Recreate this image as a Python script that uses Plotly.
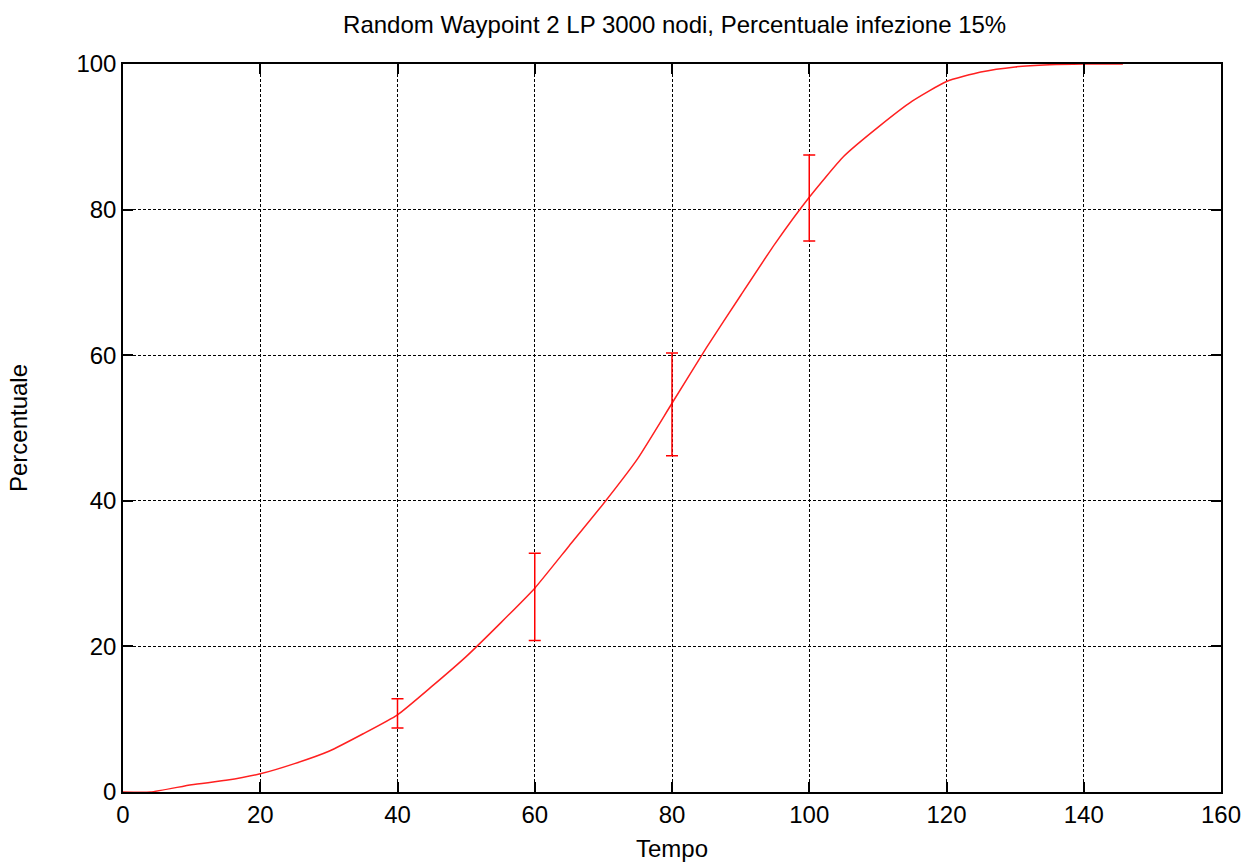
import plotly.graph_objects as go

# Mean infected percentage over time
tempo = [0, 4, 10, 15, 20, 25, 30, 35, 40, 45, 50, 55, 60, 65, 70, 75, 80,
         85, 90, 95, 100, 105, 110, 115, 120, 125, 130, 135, 140, 145.7]
percentuale = [0, 0, 1.0, 1.6, 2.5, 3.9, 5.6, 8.0, 10.6, 14.5, 18.6, 23.2, 28.0,
               33.8, 39.6, 45.8, 53.4, 61.0, 68.2, 75.3, 81.7, 87.3, 91.3, 94.9,
               97.6, 98.9, 99.6, 99.9, 100, 100]

# Confidence intervals at sampled instants
err_tempo = [40, 60, 80, 100]
err_centro = [10.6, 28.0, 53.4, 81.7]
err_sup = [12.8, 32.8, 60.3, 87.5]
err_inf = [8.8, 20.8, 46.2, 75.7]

x_ticks = [0, 20, 40, 60, 80, 100, 120, 140, 160]
y_ticks = [0, 20, 40, 60, 80, 100]

font_family = "Liberation Sans, Arial, sans-serif"

fig = go.Figure()
fig.add_trace(go.Scatter(
    x=tempo, y=percentuale, mode="lines", line_shape="spline",
    line=dict(color="#ff2020", width=1.5, smoothing=0.5),
    showlegend=False, hoverinfo="skip",
))
fig.add_trace(go.Scatter(
    x=err_tempo, y=err_centro, mode="markers",
    marker=dict(size=1, color="red"),
    error_y=dict(
        type="data", symmetric=False,
        array=[s - c for s, c in zip(err_sup, err_centro)],
        arrayminus=[c - i for c, i in zip(err_centro, err_inf)],
        color="red", thickness=1.5, width=6,
    ),
    showlegend=False,
))

axis_common = dict(
    showline=True, linecolor="black", linewidth=1.5, mirror="allticks",
    ticks="inside", ticklen=10, tickwidth=1.5, tickcolor="black",
    showgrid=True, gridcolor="black", gridwidth=1, griddash="3px,2px",
    zeroline=False, automargin=False,
    tickfont=dict(family=font_family, size=24, color="black"),
)

fig.update_xaxes(
    range=[0, 160], tickvals=x_ticks, ticktext=[str(v) for v in x_ticks],
    title=dict(text="Tempo", font=dict(family=font_family, size=24, color="black"),
               standoff=14),
    **axis_common,
)
fig.update_yaxes(
    range=[0, 100], tickvals=y_ticks, ticktext=[str(v) for v in y_ticks],
    title=dict(text="Percentuale", font=dict(family=font_family, size=24, color="black"),
               standoff=42),
    **axis_common,
)

fig.update_layout(
    width=1254, height=863,
    margin=dict(l=123, r=33, t=64, b=71),
    paper_bgcolor="white", plot_bgcolor="white",
    title=dict(
        text="Random Waypoint 2 LP 3000 nodi, Percentuale infezione 15%",
        x=0.538, xanchor="center",
        y=1 - 25 / 863, yanchor="middle",
        font=dict(family=font_family, size=24, color="black"),
    ),
)

fig.write_html("out.html")
